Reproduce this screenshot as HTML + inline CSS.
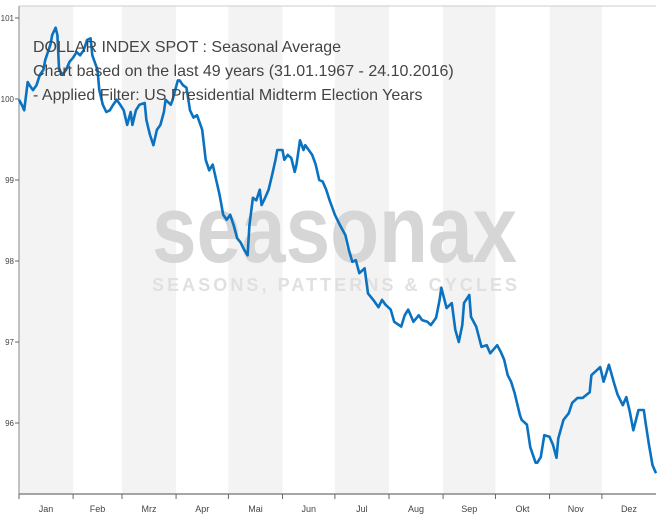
<!DOCTYPE html>
<html><head><meta charset="utf-8"><style>
html,body{margin:0;padding:0;background:#fff;}
svg{display:block;font-family:"Liberation Sans",sans-serif;}
</style></head><body>
<svg id="chart" width="664" height="516" viewBox="0 0 664 516">
<g id="bands"></g>
<g id="wm">
<text x="152" y="262" font-size="96" font-weight="bold" fill="#d6d6d6" textLength="365" lengthAdjust="spacingAndGlyphs">seasonax</text>
<text x="152" y="291" font-size="18" font-weight="bold" fill="#e0e0e0" textLength="365" lengthAdjust="spacing">SEASONS, PATTERNS &amp; CYCLES</text>
</g>
<line x1="19" y1="6" x2="656" y2="6" stroke="#ccc"/>
<line x1="19" y1="6" x2="19" y2="494" stroke="#888"/>
<line x1="19" y1="494" x2="656" y2="494" stroke="#888" stroke-width="1.5"/>
<g id="yaxis"></g>
<g id="xaxis"></g>
<path id="series" fill="none" stroke="#0a72c0" stroke-width="2.6" stroke-linejoin="round"/>
<g font-size="16" fill="#444">
<text x="33" y="52">DOLLAR INDEX SPOT : Seasonal Average</text>
<text x="33" y="76">Chart based on the last 49 years (31.01.1967 - 24.10.2016)</text>
<text x="33" y="100"> - Applied Filter: US Presidential Midterm Election Years</text>
</g>
</svg>
<script>
const months=["Jan","Feb","Mrz","Apr","Mai","Jun","Jul","Aug","Sep","Okt","Nov","Dez"];
const monthStartDays=[0,31,59,90,120,151,181,212,243,273,304,334,365];
const yTicks=[96,97,98,99,100,101];
const days=[0,2,3,5,6,8,10,12,14,15,18,19,21,22,23,25,27,29,31,33,35,37,39,41,42,45,46,48,50,52,54,56,58,60,62,64,65,67,69,72,73,75,77,79,81,83,84,87,88,91,92,94,96,98,100,102,104,105,107,109,111,113,115,117,119,121,123,125,127,129,131,132,134,136,138,139,141,143,145,147,148,151,152,154,156,158,159,161,163,164,166,168,170,172,174,176,178,181,184,187,189,191,193,195,198,200,203,206,208,210,213,215,219,221,223,225,226,229,231,234,236,239,241,242,245,248,250,252,254,255,258,259,262,265,268,270,274,276,278,280,282,284,287,288,291,293,296,297,299,301,304,306,308,309,312,315,317,320,323,327,328,331,333,335,338,341,343,346,348,350,352,355,358,359,361,363,365];
const values=[99.99,99.91,99.86,100.21,100.17,100.11,100.17,100.30,100.36,100.48,100.67,100.79,100.88,100.79,100.36,100.30,100.36,100.46,100.51,100.58,100.54,100.60,100.73,100.75,100.54,100.36,100.11,99.93,99.84,99.86,99.93,99.99,99.93,99.86,99.68,99.84,99.68,99.86,99.93,99.95,99.74,99.56,99.43,99.62,99.68,99.84,99.99,99.93,99.99,100.23,100.23,100.17,100.14,99.86,99.77,99.80,99.68,99.62,99.25,99.12,99.19,99.00,98.81,98.57,98.51,98.57,98.44,98.28,98.23,98.14,98.07,98.44,98.78,98.75,98.88,98.69,98.78,98.88,99.06,99.25,99.37,99.37,99.25,99.31,99.27,99.10,99.19,99.49,99.37,99.43,99.37,99.31,99.19,99.00,98.98,98.88,98.75,98.57,98.44,98.32,98.14,97.99,98.01,97.85,97.91,97.60,97.52,97.43,97.52,97.46,97.40,97.25,97.19,97.33,97.40,97.30,97.25,97.33,97.27,97.25,97.21,97.30,97.52,97.67,97.42,97.48,97.15,97.00,97.21,97.48,97.58,97.31,97.19,96.94,96.96,96.86,96.96,96.88,96.78,96.59,96.51,96.37,96.10,96.04,95.98,95.70,95.51,95.51,95.58,95.85,95.83,95.73,95.57,95.81,96.04,96.12,96.25,96.31,96.31,96.38,96.59,96.65,96.69,96.51,96.72,96.49,96.35,96.22,96.32,96.14,95.91,96.16,96.16,96.01,95.73,95.48,95.38];
const X0=19,X1=656,Y101=18,PX=81;
function xs(d){return X0+(X1-X0)*d/365;}
function ys(v){return Y101+(101-v)*PX;}
const NS="http://www.w3.org/2000/svg";
const bands=document.getElementById('bands'),xa=document.getElementById('xaxis'),ya=document.getElementById('yaxis');
for(let i=0;i<12;i++){
  const a=xs(monthStartDays[i]),b=xs(monthStartDays[i+1]);
  if(i%2===0){
    const r=document.createElementNS(NS,'rect');
    r.setAttribute('x',a);r.setAttribute('y',6);r.setAttribute('width',b-a);r.setAttribute('height',488);r.setAttribute('fill','#f3f3f3');
    
    
    bands.appendChild(r);
  }
  const t=document.createElementNS(NS,'line');
  t.setAttribute('x1',a);t.setAttribute('x2',a);t.setAttribute('y1',494);t.setAttribute('y2',499);t.setAttribute('stroke','#666');
  
  
  xa.appendChild(t);
  const l=document.createElementNS(NS,'text');
  l.setAttribute('x',(a+b)/2);l.setAttribute('y',512);l.setAttribute('text-anchor','middle');l.setAttribute('font-size','9');l.setAttribute('fill','#444');
  l.textContent=months[i];
  
  
  xa.appendChild(l);
}
yTicks.forEach(v=>{
  const y=ys(v);
  const t=document.createElementNS(NS,'line');
  t.setAttribute('x1',15);t.setAttribute('x2',19);t.setAttribute('y1',y);t.setAttribute('y2',y);t.setAttribute('stroke','#666');
  
  
  ya.appendChild(t);
  const l=document.createElementNS(NS,'text');
  l.setAttribute('x',14);l.setAttribute('y',y+3);l.setAttribute('text-anchor','end');l.setAttribute('font-size','8');l.setAttribute('fill','#444');
  l.textContent=String(v);
  
  
  ya.appendChild(l);
});
let d='';
for(let i=0;i<values.length;i++){d+=(i?'L':'M')+xs(days[i]).toFixed(1)+' '+ys(values[i]).toFixed(1);}
document.getElementById('series').setAttribute('d',d);
</script>
</body></html>
